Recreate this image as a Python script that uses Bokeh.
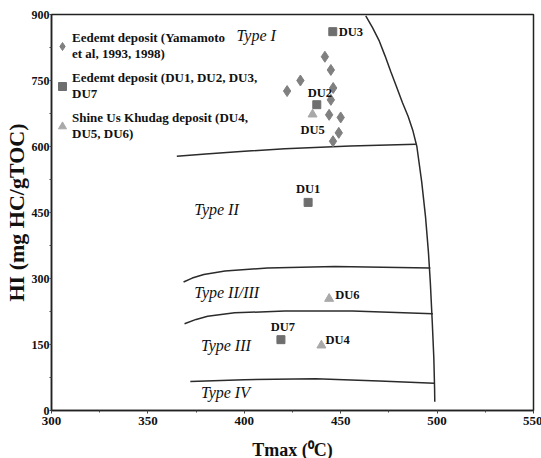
from bokeh.plotting import figure
from bokeh.models import Legend, LegendItem, FixedTicker, ColumnDataSource
from bokeh.embed import file_html
from bokeh.resources import INLINE
from bokeh.core.properties import value

# ---- data ----
yam_tmax = [441.8, 444.9, 429.1, 422.2, 446.1, 444.9, 444.0, 450.0, 449.0, 446.0]
yam_hi = [804, 774, 750, 726, 733, 706, 672, 666, 631, 612]

du_sq_names = ["DU1", "DU2", "DU3", "DU7"]
du_sq_tmax = [433.1, 437.6, 445.9, 419.0]
du_sq_hi = [473, 695, 861, 161]

du_tri_names = ["DU4", "DU5", "DU6"]
du_tri_tmax = [440.0, 435.4, 444.0]
du_tri_hi = [148, 673, 254]

# kerogen-type boundary curves
b_right_x = [463, 466.5, 470, 473, 476, 479, 482, 485, 487.5, 489.5, 492, 494, 495.5, 496.5, 497.5, 498.3, 498.7, 498.8]
b_right_y = [897, 870, 840, 806, 770, 735, 700, 668, 635, 600, 520, 440, 360, 290, 200, 120, 50, 20]
b_1_2_x = [365, 380, 400, 421, 455, 489]
b_1_2_y = [578, 583, 589, 595, 601, 605]
b_2_23_x = [368.5, 373, 379, 390, 412, 447, 496.5]
b_2_23_y = [292, 301, 309, 317, 324, 327, 324]
b_23_3_x = [369, 375, 381, 395, 421, 456, 497.8]
b_23_3_y = [197, 207, 214, 222, 226, 226, 220]
b_3_4_x = [372, 400, 437, 470, 498.5]
b_3_4_y = [66, 70, 72, 67, 62]

type_names = ["Type I", "Type II", "Type II/III", "Type III", "Type IV"]
type_x = [396, 374, 374, 377.5, 377.5]
type_y = [852, 457, 268, 148, 41]

x_ticks = [300, 350, 400, 450, 500, 550]
y_ticks = [0, 150, 300, 450, 600, 750, 900]

SERIF = "Liberation Serif"

p = figure(output_backend="svg", toolbar_location=None,
           frame_width=482, frame_height=396,
           x_range=(300, 550), y_range=(0, 900),
           min_border_left=50, min_border_right=9, min_border_top=14, min_border_bottom=40,
           background_fill_color="white", border_fill_color="white")
p.grid.visible = False
p.outline_line_color = "#222222"
p.outline_line_width = 1.5

for ax in (p.xaxis[0], p.yaxis[0]):
    ax.axis_line_color = "#222222"
    ax.axis_line_width = 1.5
    ax.major_tick_line_color = "#444444"
    ax.minor_tick_line_color = "#444444"
    ax.major_tick_out = 3
    ax.major_tick_in = 0
    ax.minor_tick_out = 2
    ax.minor_tick_in = 0
    ax.major_label_text_font = SERIF
    ax.major_label_text_font_style = "bold"
    ax.major_label_text_font_size = "13px"
    ax.major_label_text_color = "#111111"
    ax.axis_label_text_font = SERIF
    ax.axis_label_text_font_style = "bold"
    ax.axis_label_text_color = "#111111"

p.yaxis.major_label_text_font_size = "12px"
p.yaxis.major_tick_out = 2
p.xaxis.ticker = FixedTicker(ticks=x_ticks, minor_ticks=[325, 375, 425, 475, 525])
p.yaxis.ticker = FixedTicker(ticks=y_ticks, minor_ticks=[75, 225, 375, 525, 675, 825])
p.xaxis.axis_label = "Tmax (\u2070C)"
p.xaxis.axis_label_text_font_size = "18px"
p.xaxis.major_label_standoff = 3
p.xaxis.axis_label_standoff = 12
p.yaxis.axis_label = "HI (mg HC/gTOC)"
p.yaxis.axis_label_text_font_size = "22px"
p.yaxis.major_label_standoff = 0
p.yaxis.axis_label_standoff = 0

line_kw = dict(line_color="#2b2b2b", line_width=1.5)
for xs, ys in [(b_right_x, b_right_y), (b_1_2_x, b_1_2_y), (b_2_23_x, b_2_23_y),
               (b_23_3_x, b_23_3_y), (b_3_4_x, b_3_4_y)]:
    p.line(xs, ys, **line_kw)

p.text(x=type_x, y=type_y, text=type_names, text_font=value(SERIF),
       text_font_style="italic", text_font_size="16px", text_color="#111111",
       text_baseline="middle", text_align="left")

r_yam = p.scatter(yam_tmax, yam_hi, marker="diamond", size=11,
                  fill_color="#808080", line_color="#808080")
sq_src = ColumnDataSource(dict(x=du_sq_tmax, y=du_sq_hi, name=du_sq_names))
tri_src = ColumnDataSource(dict(x=du_tri_tmax, y=du_tri_hi, name=du_tri_names))
r_sq = p.scatter("x", "y", source=sq_src, marker="square", size=8,
                 fill_color="#6e6e6e", line_color="#6e6e6e")
r_tri = p.scatter("x", "y", source=tri_src, marker="triangle", size=9,
                  fill_color="#a9a9a9", line_color="#a9a9a9")

# point labels with per-label offsets (pixels)
lab_kw = dict(text_font=value(SERIF), text_font_style="bold", text_font_size="12.5px",
              text_color="#111111", text_baseline="middle")
sq_off = {"DU1": (0, -13, "center"), "DU2": (3, -12, "center"),
          "DU3": (6, 0, "left"), "DU7": (2, -13, "center")}
tri_off = {"DU4": (4, -5, "left"), "DU5": (0, 16, "center"), "DU6": (6, -4, "left")}
for names, xs, ys, offs in [(du_sq_names, du_sq_tmax, du_sq_hi, sq_off),
                            (du_tri_names, du_tri_tmax, du_tri_hi, tri_off)]:
    for n, xv, yv in zip(names, xs, ys):
        dx, dy, al = offs[n]
        p.text(x=[xv], y=[yv], text=[n], x_offset=dx, y_offset=dy, text_align=al, **lab_kw)

legend = Legend(items=[
    LegendItem(label="Eedemt deposit (Yamamoto\net al, 1993, 1998)", renderers=[r_yam]),
    LegendItem(label="Eedemt deposit (DU1, DU2, DU3,\nDU7", renderers=[r_sq]),
    LegendItem(label="Shine Us Khudag deposit (DU4,\nDU5, DU6)", renderers=[r_tri]),
], location=(1, 268))
legend.background_fill_alpha = 0
legend.border_line_alpha = 0
legend.label_text_font = SERIF
legend.label_text_font_style = "bold"
legend.label_text_font_size = "13px"
legend.label_text_color = "#111111"
legend.label_text_line_height = 1.35
legend.glyph_width = 20
legend.glyph_height = 20
legend.label_standoff = 0
legend.spacing = 8
legend.margin = 0
legend.padding = 0
p.add_layout(legend)

open("out.html", "w").write(file_html(p, INLINE))
